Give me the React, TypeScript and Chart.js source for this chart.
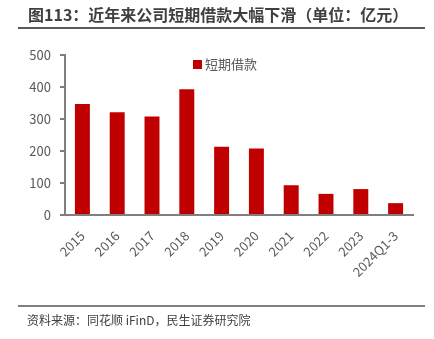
import React, { useEffect, useRef } from "react";
import { Chart, registerables } from "chart.js";

Chart.register(...registerables);

const categories = ["2015", "2016", "2017", "2018", "2019", "2020", "2021", "2022", "2023", "2024Q1-3"];
const shortTermLoans = [347, 321, 308, 393, 213, 208, 93, 66, 81, 37];
const seriesName = "短期借款";
const yTicks = [0, 100, 200, 300, 400, 500];
const titleText = "图113：近年来公司短期借款大幅下滑（单位：亿元）";
const sourceText = "资料来源：同花顺 iFinD，民生证券研究院";

const FONT = '"Noto Sans CJK SC", "Noto Sans", sans-serif';
const RED = "#C00000";
const TEXT = "#595959";
const AXIS = "#7f7f7f";

export default function App() {
  const ref = useRef<HTMLCanvasElement | null>(null);

  useEffect(() => {
    if (!ref.current) return;
    const chart = new Chart(ref.current, {
      type: "bar",
      data: {
        labels: categories,
        datasets: [
          {
            label: seriesName,
            data: shortTermLoans,
            backgroundColor: RED,
            borderWidth: 0,
            categoryPercentage: 1,
            barPercentage: 0.43,
          },
        ],
      },
      options: {
        responsive: false,
        animation: false,
        layout: { padding: { top: 55, right: 21, left: 0, bottom: 0 } },
        plugins: { legend: { display: false }, tooltip: { enabled: false }, title: { display: false } },
        scales: {
          x: {
            grid: { display: false, drawTicks: false },
            border: { display: true, color: AXIS, width: 2 },
            ticks: {
              color: TEXT,
              font: { family: FONT, size: 13 },
              minRotation: 45,
              maxRotation: 45,
              padding: 13,
              autoSkip: false,
            },
            afterFit: (s: any) => {
              s.height = 124;
            },
          },
          y: {
            min: 0,
            max: 500,
            afterBuildTicks: (s: any) => {
              s.ticks = yTicks.map((v) => ({ value: v }));
            },
            grid: { display: true, drawOnChartArea: false, drawTicks: true, tickLength: 5, color: AXIS, lineWidth: 2 },
            border: { display: true, color: AXIS, width: 2 },
            ticks: { color: TEXT, font: { family: FONT, size: 13 }, padding: 9 },
            afterFit: (s: any) => {
              s.width = 65;
            },
          },
        },
      },
    });
    return () => chart.destroy();
  }, []);

  return (
    <div style={{ position: "fixed", left: 0, top: 0, width: 434, height: 339, background: "#fff", fontFamily: FONT, overflow: "hidden" }}>
      <canvas ref={ref} width={434} height={339} style={{ position: "absolute", left: 0, top: 0, width: 434, height: 339 }} />
      <div style={{ position: "absolute", left: 28, top: 3, fontSize: 16, fontWeight: 700, color: "#404040", whiteSpace: "nowrap", lineHeight: "22px" }}>
        {titleText}
      </div>
      <div style={{ position: "absolute", left: 18, top: 27, width: 407, height: 2, background: "#595959" }} />
      <div style={{ position: "absolute", left: 193, top: 55, display: "flex", alignItems: "center", fontSize: 13, color: TEXT, whiteSpace: "nowrap", lineHeight: "18px" }}>
        <span style={{ display: "inline-block", width: 9, height: 9, background: RED, marginRight: 3 }} />
        {seriesName}
      </div>
      <div style={{ position: "absolute", left: 18, top: 305, width: 407, height: 1.5, background: "#7f7f7f" }} />
      <div style={{ position: "absolute", left: 27, top: 311, fontSize: 12, color: "#404040", whiteSpace: "nowrap", lineHeight: "18px" }}>
        {sourceText}
      </div>
    </div>
  );
}
